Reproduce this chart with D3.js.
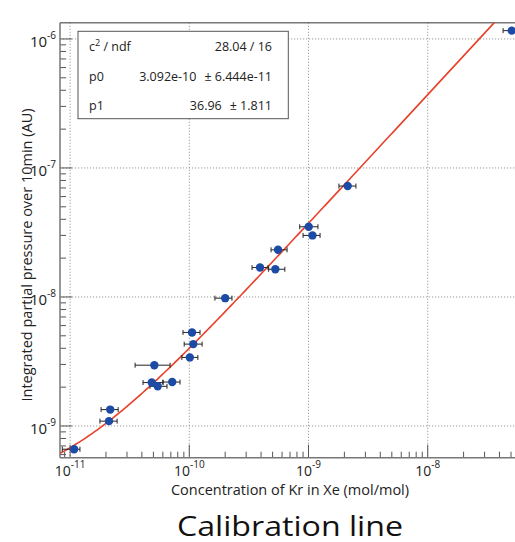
<!DOCTYPE html>
<html>
<head>
<meta charset="utf-8">
<script src="https://cdn.jsdelivr.net/npm/d3@7"></script>
<style>
  body { margin: 0; background: #fff; }
  text { font-family: "Open Sans", sans-serif; }
</style>
</head>
<body>
<svg id="chart"></svg>
<script>
// measured points (concentration of Kr, integrated pressure) with x errors
const conc    = [1.08e-11, 2.17e-11, 2.12e-11, 5.09e-11, 4.84e-11, 5.43e-11, 7.19e-11, 1.054e-10, 1.08e-10, 1.01e-10, 2.0e-10, 3.92e-10, 5.27e-10, 5.55e-10, 1.004e-9, 1.08e-9, 2.13e-9, 5.07e-8]
const concLo  = [8.6e-12, 1.82e-11, 1.78e-11, 3.51e-11, 4.09e-11, 4.68e-11, 6.0e-11, 8.85e-11, 9.06e-11, 8.66e-11, 1.64e-10, 3.36e-10, 4.63e-10, 4.85e-10, 8.44e-10, 9.0e-10, 1.80e-9, 4.29e-8]
const concHi  = [1.21e-11, 2.53e-11, 2.48e-11, 6.9e-11, 6.03e-11, 6.5e-11, 8.36e-11, 1.23e-10, 1.28e-10, 1.18e-10, 2.28e-10, 4.58e-10, 6.33e-10, 6.61e-10, 1.2e-9, 1.25e-9, 2.5e-9, 5.9e-8]
const press   = [6.6e-10, 1.34e-9, 1.09e-9, 2.96e-9, 2.17e-9, 2.03e-9, 2.19e-9, 5.31e-9, 4.31e-9, 3.40e-9, 9.79e-9, 1.69e-8, 1.64e-8, 2.32e-8, 3.5e-8, 3.0e-8, 7.24e-8, 1.16e-6]

// fit result: pressure = p0 + p1 * conc
const p0 = 3.092e-10
const p1 = 36.96
const statNames  = ['c', 'p0', 'p1']
const statValues = ['', '3.092e-10', '36.96']
const statErrors = ['28.04 / 16', '\u00b1 6.444e-11', '\u00b1 1.811']

const xMajor = [-11, -10, -9, -8]
const yMajor = [-6, -7, -8, -9]

const width = 515, height = 542
const frame = { left: 60, right: 522, top: 22.7, bottom: 457.7 }

const svg = d3.select('#chart')
    .attr('width', width)
    .attr('height', height)

const x = d3.scaleLog()
    .domain([Math.pow(10, -11.0847), Math.pow(10, -7.209)])
    .range([frame.left, frame.right])
const y = d3.scaleLog()
    .domain([Math.pow(10, -9.2459), Math.pow(10, -5.874)])
    .range([frame.bottom, frame.top])

const isMajor = d => Math.abs(Math.log10(d) - Math.round(Math.log10(d))) < 1e-6

const plot = svg.append('g')

// grid
plot.selectAll('.vgrid').data(xMajor).join('line')
    .attr('x1', d => x(Math.pow(10, d))).attr('x2', d => x(Math.pow(10, d)))
    .attr('y1', frame.top).attr('y2', frame.bottom)
    .attr('stroke', '#999').attr('stroke-dasharray', '1.2,1.8')
plot.selectAll('.hgrid').data(yMajor).join('line')
    .attr('y1', d => y(Math.pow(10, d))).attr('y2', d => y(Math.pow(10, d)))
    .attr('x1', frame.left).attr('x2', frame.right)
    .attr('stroke', '#999').attr('stroke-dasharray', '1.2,1.8')

// axis ticks (inside the frame, ROOT style)
plot.selectAll('.xtick').data(x.ticks()).join('line')
    .attr('x1', d => x(d)).attr('x2', d => x(d))
    .attr('y1', frame.bottom)
    .attr('y2', d => frame.bottom - (isMajor(d) ? 13 : 6))
    .attr('stroke', '#555').attr('stroke-width', 1)
plot.selectAll('.ytick').data(y.ticks()).join('line')
    .attr('y1', d => y(d)).attr('y2', d => y(d))
    .attr('x1', frame.left)
    .attr('x2', d => frame.left + (isMajor(d) ? 12 : 6))
    .attr('stroke', '#555').attr('stroke-width', 1)

// frame
plot.append('line')
    .attr('x1', frame.left).attr('x2', frame.right)
    .attr('y1', frame.top).attr('y2', frame.top)
    .attr('stroke', '#777').attr('stroke-width', 1.5)
plot.append('line')
    .attr('x1', frame.left).attr('x2', frame.right)
    .attr('y1', frame.bottom).attr('y2', frame.bottom)
    .attr('stroke', '#777').attr('stroke-width', 1.5)
plot.append('line')
    .attr('x1', frame.left).attr('x2', frame.left)
    .attr('y1', frame.top).attr('y2', frame.bottom)
    .attr('stroke', '#777').attr('stroke-width', 1.5)

// tick labels
const xLab = svg.selectAll('.xlab').data(xMajor).join('text')
    .attr('x', d => x(Math.pow(10, d)))
    .attr('y', 476)
    .attr('text-anchor', 'middle')
    .attr('font-size', 14)
    .attr('fill', '#222')
xLab.append('tspan').text('10')
xLab.append('tspan').attr('dy', -8).attr('font-size', 10).text(d => d)

const yLab = svg.selectAll('.ylab').data(yMajor).join('text')
    .attr('x', 56)
    .attr('y', d => y(Math.pow(10, d)) + 8)
    .attr('text-anchor', 'end')
    .attr('font-size', 15)
    .attr('fill', '#222')
yLab.append('tspan').text('10')
yLab.append('tspan').attr('dy', -8).attr('font-size', 10).text(d => d)

// axis titles
svg.append('text')
    .attr('x', 290).attr('y', 495)
    .attr('text-anchor', 'middle')
    .attr('font-size', 14.5)
    .attr('fill', '#222')
    .text('Concentration of Kr in Xe (mol/mol)')
svg.append('text')
    .attr('transform', 'translate(32,255) rotate(-90)')
    .attr('text-anchor', 'middle')
    .attr('font-size', 14.5)
    .attr('fill', '#222')
    .text('Integrated partial pressure over 10min (AU)')

// fit curve
svg.append('clipPath').attr('id', 'clip')
    .append('rect')
    .attr('x', frame.left).attr('y', frame.top)
    .attr('width', frame.right - frame.left).attr('height', frame.bottom - frame.top)

const [lx0, lx1] = x.domain().map(Math.log10)
const fitX = d3.range(0, 201).map(i => Math.pow(10, lx0 + i * (lx1 - lx0) / 200))
svg.append('path')
    .datum(fitX)
    .attr('clip-path', 'url(#clip)')
    .attr('fill', 'none')
    .attr('stroke', '#e8402a')
    .attr('stroke-width', 1.6)
    .attr('d', d3.line().x(d => x(d)).y(d => y(p0 + p1 * d)))

// points with horizontal error bars
const pts = svg.append('g').attr('clip-path', 'url(#clip)')
const idx = d3.range(conc.length)
pts.selectAll('.err').data(idx).join('line')
    .attr('x1', i => x(concLo[i])).attr('x2', i => x(concHi[i]))
    .attr('y1', i => y(press[i])).attr('y2', i => y(press[i]))
    .attr('stroke', '#222').attr('stroke-width', 1)
pts.selectAll('.capL').data(idx).join('line')
    .attr('x1', i => x(concLo[i])).attr('x2', i => x(concLo[i]))
    .attr('y1', i => y(press[i]) - 2.5).attr('y2', i => y(press[i]) + 2.5)
    .attr('stroke', '#222').attr('stroke-width', 1)
pts.selectAll('.capR').data(idx).join('line')
    .attr('x1', i => x(concHi[i])).attr('x2', i => x(concHi[i]))
    .attr('y1', i => y(press[i]) - 2.5).attr('y2', i => y(press[i]) + 2.5)
    .attr('stroke', '#222').attr('stroke-width', 1)
pts.selectAll('circle').data(idx).join('circle')
    .attr('cx', i => x(conc[i]))
    .attr('cy', i => y(press[i]))
    .attr('r', 4.2)
    .attr('fill', '#1c4ba6')

// stats box
const box = svg.append('g')
box.append('rect')
    .attr('x', 78).attr('y', 31.3)
    .attr('width', 210.3).attr('height', 87.4)
    .attr('fill', '#fff')
    .attr('stroke', '#555').attr('stroke-width', 1)
const rowY = [51, 81, 110]
statNames.forEach((name, i) => {
    const t = box.append('text')
        .attr('x', 89).attr('y', rowY[i])
        .attr('font-size', 12.5).attr('fill', '#222')
    t.append('tspan').text(name)
    if (i === 0) {
        t.append('tspan').attr('dy', -5).attr('font-size', 9).text('2')
        t.append('tspan').attr('dy', 5).text(' / ndf')
    }
    const e = box.append('text')
        .attr('x', 272).attr('y', rowY[i])
        .attr('text-anchor', 'end')
        .attr('font-size', 12.5).attr('fill', '#222')
        .text(statErrors[i])
    if (statValues[i]) {
        const w = e.node().getComputedTextLength()
        box.append('text')
            .attr('x', 272 - w - 8).attr('y', rowY[i])
            .attr('text-anchor', 'end')
            .attr('font-size', 12.5).attr('fill', '#222')
            .text(statValues[i])
    }
})

// caption
svg.append('text')
    .attr('x', 290).attr('y', 535.5)
    .attr('text-anchor', 'middle')
    .attr('font-family', 'Lato, sans-serif')
    .attr('font-size', 28)
    .attr('textLength', 226)
    .attr('lengthAdjust', 'spacingAndGlyphs')
    .attr('fill', '#111')
    .text('Calibration line')
</script>
</body>
</html>
